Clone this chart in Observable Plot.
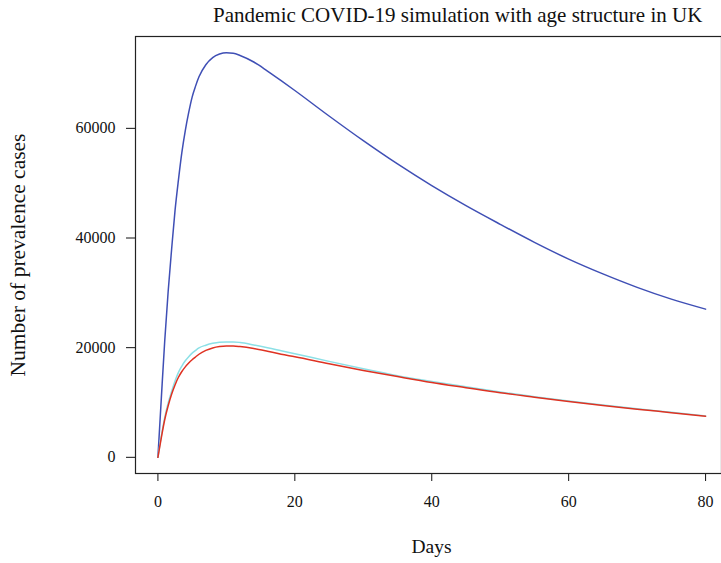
<!DOCTYPE html>
<html>
<head>
<meta charset="utf-8">
<script src="https://cdn.jsdelivr.net/npm/d3@7"></script>
<script src="https://cdn.jsdelivr.net/npm/@observablehq/plot@0.6"></script>
<style>
  html, body { margin: 0; padding: 0; background: #fff; overflow: hidden; }
  #title { font-family: "Liberation Serif", "DejaVu Serif", serif; font-size: 21px; color: #111;
           height: 30px; line-height: 30px; padding-left: 213px; white-space: nowrap; }
</style>
</head>
<body>
<div id="title">Pandemic COVID-19 simulation with age structure in UK</div>
<div id="chart"></div>
<script>
const days = [0,0.5,1,1.5,2,2.5,3,3.5,4,4.5,5,5.5,6,7,8,9,10,11,12,14,16,18,20,25,30,35,40,45,50,55,60,65,70,75,80];
const seriesBlue = [0,10800,21300,30300,37900,45000,50600,55600,59600,62900,65700,67700,69400,71600,72900,73550,73800,73700,73300,72100,70450,68700,66900,62250,57750,53500,49550,45900,42500,39200,36150,33450,31000,28850,27030];
const seriesCyan = [0,3900,7300,9900,12000,13900,15500,16650,17600,18350,19000,19500,19950,20450,20800,21000,21050,21050,20950,20500,20000,19450,18900,17500,16150,14900,13850,12850,11900,11060,10260,9520,8840,8200,7550];
const seriesRed  = [0,3600,6900,9400,11500,13200,14600,15650,16500,17200,17800,18300,18800,19500,19950,20200,20300,20300,20200,19850,19350,18800,18350,17050,15850,14730,13650,12700,11770,10960,10180,9450,8780,8150,7500];
const xTicks = [0,20,40,60,80];
const yTicks = [0,20000,40000,60000];
const xLabel = "Days";
const yLabel = "Number of prevalence cases";

const toRows = (vals) => days.map((d, i) => ({day: d, value: vals[i]}));
const rowsBlue = toRows(seriesBlue), rowsCyan = toRows(seriesCyan), rowsRed = toRows(seriesRed);

// R-style 4% axis extension
const xExt = d3.extent(days);
const xPad = (xExt[1] - xExt[0]) * 0.04;
const allY = seriesBlue.concat(seriesCyan, seriesRed);
const yExt = d3.extent(allY);
const yPad = (yExt[1] - yExt[0]) * 0.04;

const chart = Plot.plot({
  width: 721,
  height: 533,
  marginTop: 6,
  marginBottom: 90,
  marginLeft: 135,
  marginRight: 0,
  style: {fontFamily: "Liberation Serif, DejaVu Serif, serif", fontSize: "16px", color: "#111", background: "#fff"},
  x: {domain: [xExt[0] - xPad, xExt[1] + xPad], range: [135.5, 727], ticks: xTicks, tickSize: 8, tickPadding: 14,
      tickFormat: d => String(d), label: null},
  y: {domain: [yExt[0] - yPad, yExt[1] + yPad], ticks: yTicks, tickSize: 9, tickPadding: 11,
      tickFormat: d => String(d), label: null},
  marks: [
    Plot.frame({stroke: "#222", strokeWidth: 1.2}),
    Plot.line(rowsBlue, {x: "day", y: "value", stroke: "#3f4fb5", strokeWidth: 1.5, curve: "monotone-x"}),
    Plot.line(rowsCyan, {x: "day", y: "value", stroke: "#8ce0e6", strokeWidth: 1.5, curve: "monotone-x"}),
    Plot.line(rowsRed, {x: "day", y: "value", stroke: "#df3222", strokeWidth: 1.5, curve: "monotone-x"}),
    Plot.text([xLabel], {text: d => d, frameAnchor: "bottom", textAnchor: "middle", dx: 3, dy: 79, fontSize: 19.5, fill: "#111"}),
    Plot.text([yLabel], {text: d => d, frameAnchor: "left", textAnchor: "middle", dx: -117, rotate: -90, fontSize: 21.5, fill: "#111"})
  ]
});
document.getElementById("chart").appendChild(chart);
</script>
</body>
</html>
